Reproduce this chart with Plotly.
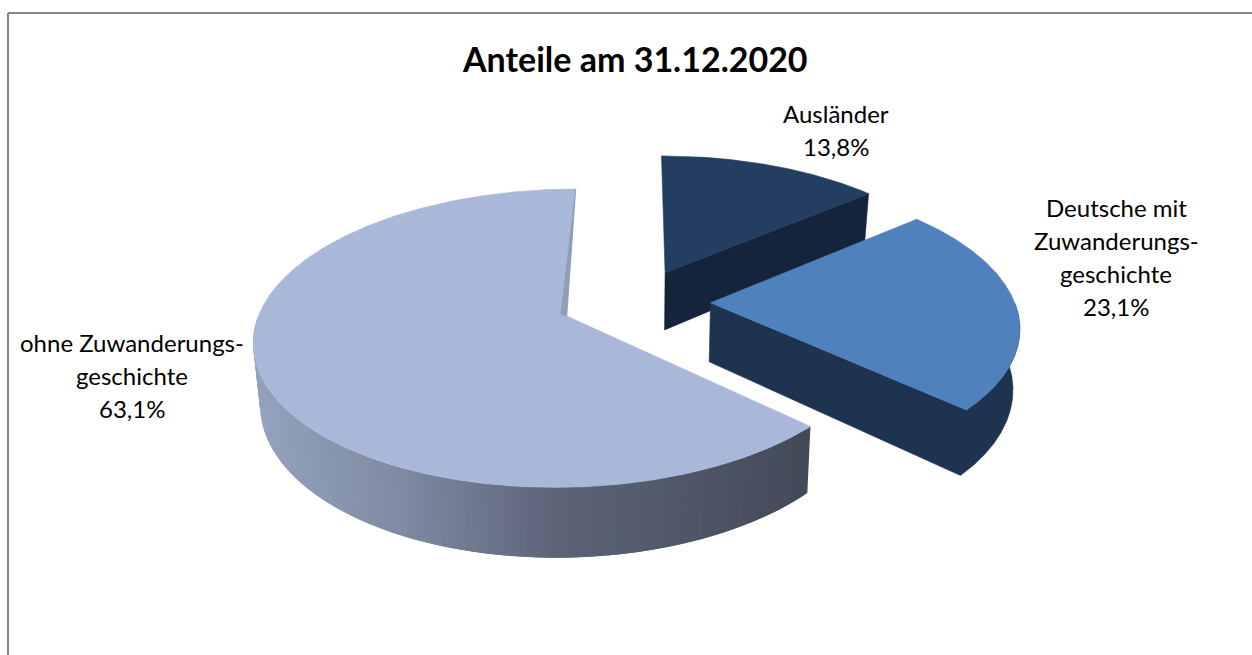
import numpy as np
import plotly.graph_objects as go

# --- data ---
categories = ["Ausländer", "Deutsche mit Zuwanderungsgeschichte", "ohne Zuwanderungsgeschichte"]
values = [13.8, 23.1, 63.1]
label_lines = [["Ausländer"], ["Deutsche mit", "Zuwanderungs-", "geschichte"], ["ohne Zuwanderungs-", "geschichte"]]
title_text = "Anteile am 31.12.2020"

# --- style ---
top_colors = ["#243E61", "#4F81BD", "#A9B8D8"]
side_colors = ["#14243A", "#1D334F", None]
grad_pos = [0.0, 0.27, 0.53, 1.0]
grad_r = [0x95, 0x7F, 0x5E, 0x44]
grad_g = [0xA3, 0x8B, 0x66, 0x4A]
grad_b = [0xBE, 0xA3, 0x7A, 0x58]
sliver_color = "#8F9DB8"
frame_color = "#868686"
label_pos = [(836, 113), (1116, 207), (132, 342)]
line_step = 33

# --- projection of the exploded 3D pie ---
XC, YV, D, K, A = 636.0, -669.0, 971.0, 0.146, 304.0
PULLS, DEPTH, SHRINK = [0.235, 0.245, 0.245], 59.0, 0.018


def project(u, v):
    w = 1 - K * v
    return XC + A * u / w, YV + D / w


def drop(x, y, v):
    return XC + (x - XC) * (1 - SHRINK), y + DEPTH / (1 - K * v)


def poly(xs, ys, color, lw=0.6):
    return go.Scatter(x=list(xs), y=list(ys), mode="lines", fill="toself", fillcolor=color,
                      line=dict(color=color, width=lw), hoverinfo="skip", showlegend=False)


fig = go.Figure()
edges = np.cumsum([0] + values) / sum(values) * 2 * np.pi
for i, val in enumerate(values):
    t0, t1 = edges[i], edges[i + 1]
    mid = (t0 + t1) / 2
    u0, v0 = PULLS[i] * np.sin(mid), -PULLS[i] * np.cos(mid)
    t = np.linspace(t0, t1, 420)
    au, av = u0 + np.sin(t), v0 - np.cos(t)
    ax_, ay_ = project(au, av)
    cx, cy = project(u0, v0)
    bx, by = drop(ax_, ay_, av)
    cbx, cby = drop(cx, cy, v0)

    # visible outer wall (part of the rim that faces the viewer)
    idx = np.where((t >= np.pi / 2) & (t <= 1.5 * np.pi))[0]
    if side_colors[i]:
        if i == 0:
            # straight wall of the closing edge only
            fig.add_trace(poly([cx, ax_[-1], bx[-1], cbx, cx], [cy, ay_[-1], by[-1], cby, cy], side_colors[i]))
        else:
            # rim and straight wall as one outline
            fig.add_trace(poly(list(ax_[idx]) + [cx, cbx] + list(bx[idx][::-1]),
                               list(ay_[idx]) + [cy, cby] + list(by[idx][::-1]), side_colors[i]))
    else:
        xmin, xmax = ax_[idx].min(), ax_[idx].max()
        step = 2
        for j in range(0, len(idx) - 1, step):
            a, b = idx[j], idx[min(j + step + 2, len(idx) - 1)]
            f = (ax_[idx[j]] - xmin) / (xmax - xmin)
            col = "rgb(%d,%d,%d)" % (np.interp(f, grad_pos, grad_r), np.interp(f, grad_pos, grad_g),
                                     np.interp(f, grad_pos, grad_b))
            seg = np.arange(a, b + 1)
            fig.add_trace(poly(list(ax_[seg]) + list(bx[seg][::-1]), list(ay_[seg]) + list(by[seg][::-1]), col, 0))

    # top face
    fig.add_trace(poly([cx] + list(ax_) + [cx], [cy] + list(ay_) + [cy], top_colors[i]))

    # thin visible sliver of the inner wall
    if i == 2:
        fig.add_trace(poly([ax_[-1], cx, cx - 6, ax_[-1]], [ay_[-1], cy, cy - 2, ay_[-1]], sliver_color))

annotations = [dict(x=635, y=58, text="<b>%s</b>" % title_text, showarrow=False, xanchor="center", yanchor="middle",
                    font=dict(family="Lato", size=34, color="#000000"))]
for lines, val, (lx, ly) in zip(label_lines, values, label_pos):
    all_lines = lines + [("%.1f%%" % val).replace(".", ",")]
    for n, line in enumerate(all_lines):
        annotations.append(dict(x=lx, y=ly + n * line_step, text=line, showarrow=False, xanchor="center",
                                yanchor="middle", font=dict(family="Lato", size=24, color="#000000")))

fig.update_layout(
    width=1252, height=655, margin=dict(l=0, r=0, t=0, b=0),
    paper_bgcolor="#FFFFFF", plot_bgcolor="#FFFFFF",
    xaxis=dict(range=[0, 1252], visible=False, fixedrange=True),
    yaxis=dict(range=[655, 0], visible=False, fixedrange=True),
    annotations=annotations,
    shapes=[
        dict(type="line", x0=8, x1=8, y0=13, y1=655, line=dict(color=frame_color, width=2)),
        dict(type="line", x0=8, x1=1252, y0=13, y1=13, line=dict(color=frame_color, width=2)),
    ],
)
fig.write_html("out.html", config=dict(displayModeBar=False),
               post_script="document.body.style.margin='0';document.body.style.overflow='hidden';")
